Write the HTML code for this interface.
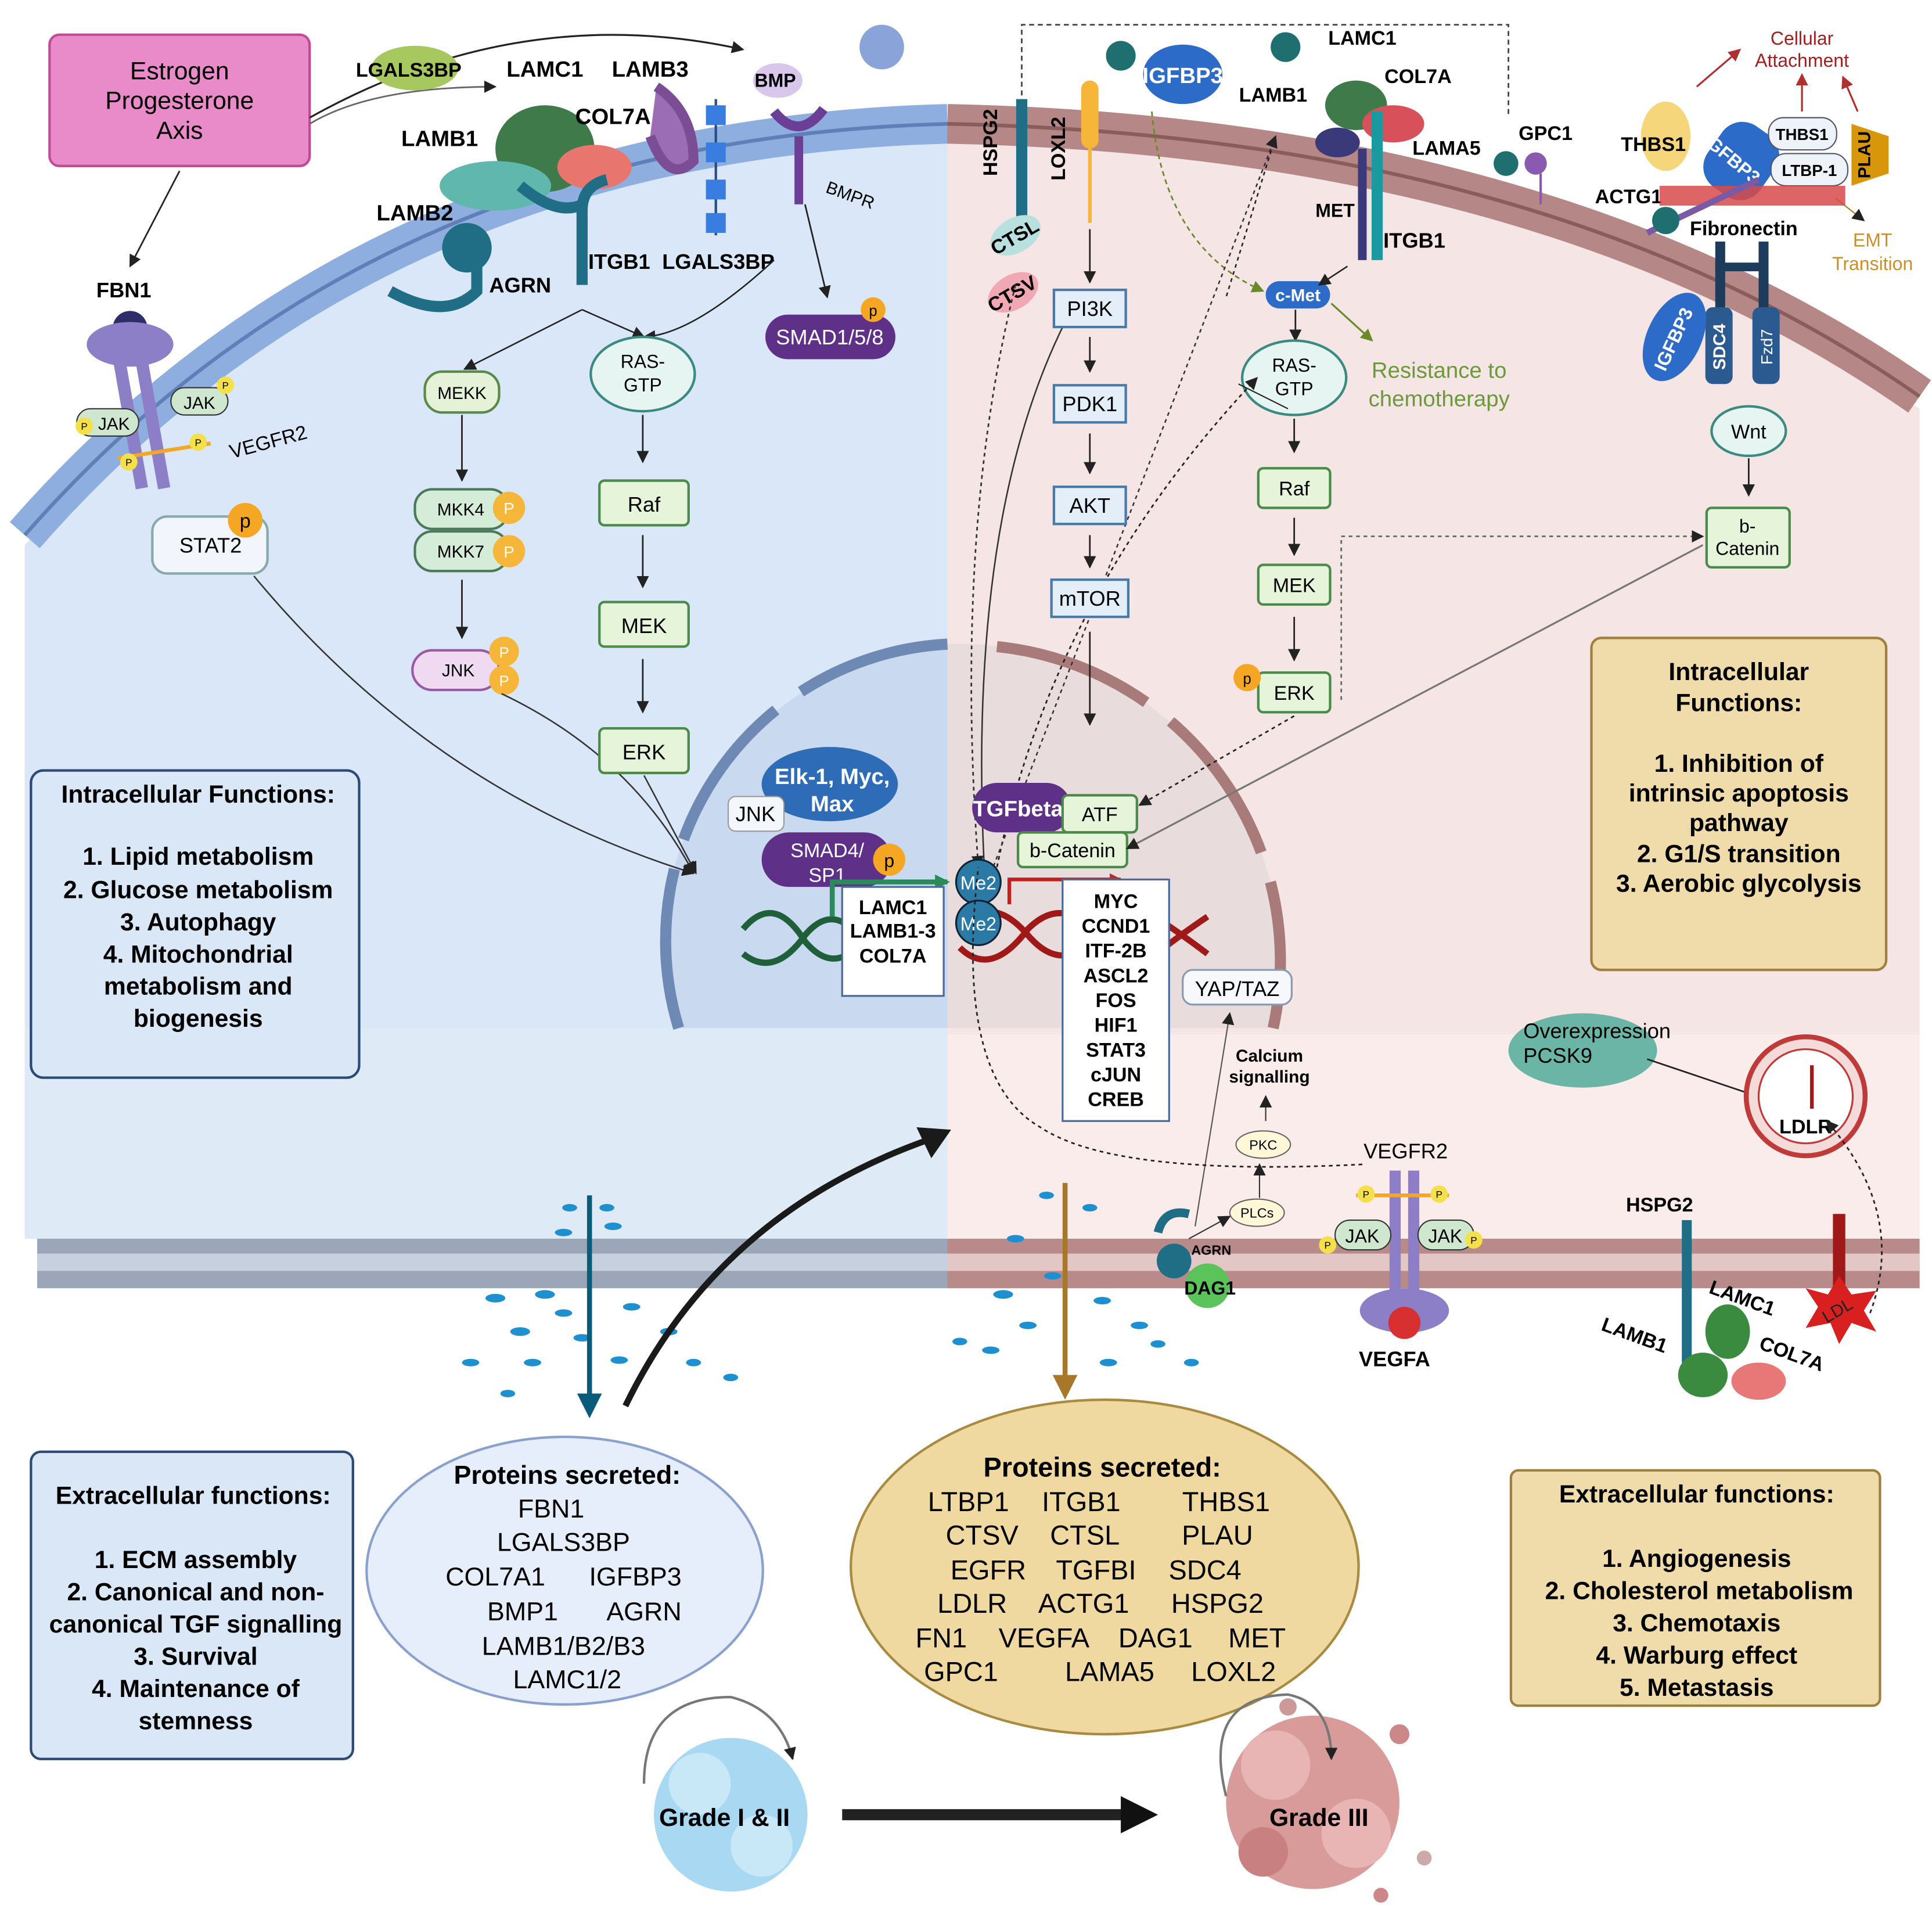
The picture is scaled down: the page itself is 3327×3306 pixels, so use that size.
<!DOCTYPE html>
<html><head><meta charset="utf-8"><style>
html,body{margin:0;padding:0;background:#fff}
svg{display:block}
text{font-family:"Liberation Sans",sans-serif}
</style></head><body>
<svg width="3327" height="3306" viewBox="0 0 1560 1550" preserveAspectRatio="none" xmlns="http://www.w3.org/2000/svg">
<defs>
<marker id="ar" markerUnits="userSpaceOnUse" markerWidth="10" markerHeight="10" refX="9" refY="5" orient="auto"><path d="M0,0L10,5L0,10z" fill="#222"/></marker>
<marker id="ag" markerUnits="userSpaceOnUse" markerWidth="10" markerHeight="10" refX="9" refY="5" orient="auto"><path d="M0,0L10,5L0,10z" fill="#6a8a2a"/></marker>
<marker id="arr" markerUnits="userSpaceOnUse" markerWidth="10" markerHeight="10" refX="9" refY="5" orient="auto"><path d="M0,0L10,5L0,10z" fill="#b03030"/></marker>
<marker id="agr" markerUnits="userSpaceOnUse" markerWidth="12" markerHeight="12" refX="10" refY="6" orient="auto"><path d="M0,0L12,6L0,12z" fill="#2b8a5a"/></marker>
</defs>
<rect width="1560" height="1550" fill="#fff"/>
<path d="M20,440 Q300,125 765,110 L765,1000 L20,1000 Z" fill="#d9e7f8"/>
<rect x="20" y="830" width="745" height="170" fill="#dfeaf7"/>
<path d="M765,110 Q1250,120 1550,330 L1550,1000 L765,1000 Z" fill="#f5e5e5"/>
<rect x="765" y="835" width="785" height="165" fill="#fbecec"/>
<path d="M765,520 A245,245 0 0 0 545,830 L765,830Z" fill="#c9d9ef"/>
<path d="M765,520 A260,260 0 0 1 1030,830 L765,830Z" fill="#e8dcdc"/>
<path d="M548,830 A240,240 0 0 1 765,520" fill="none" stroke="#6f89b5" stroke-width="9" stroke-dasharray="130,25"/>
<path d="M805,522 A255,255 0 0 1 1028,830" fill="none" stroke="#a97a7a" stroke-width="9" stroke-dasharray="130,25"/>
<path d="M20,432 Q300,112 765,100" fill="none" stroke="#8eaedf" stroke-width="32"/>
<path d="M20,432 Q300,112 765,100" fill="none" stroke="#5f7fb8" stroke-width="3"/>
<path d="M765,100 Q1250,110 1550,320" fill="none" stroke="#b58787" stroke-width="32"/>
<path d="M765,100 Q1250,110 1550,320" fill="none" stroke="#8a5d5d" stroke-width="3"/>
<rect x="30" y="1000" width="735" height="40" fill="#9ba7b9"/>
<rect x="30" y="1012" width="735" height="14" fill="#c7d0de"/>
<rect x="765" y="1000" width="785" height="40" fill="#b88a8a"/>
<rect x="765" y="1012" width="785" height="14" fill="#e3c6c6"/>

<rect x="40" y="28" width="210" height="106" rx="8" fill="#e98bc8" stroke="#c44a98" stroke-width="2"/>
<text x="145" y="64" font-size="20" text-anchor="middle">Estrogen</text>
<text x="145" y="88" font-size="20" text-anchor="middle">Progesterone</text>
<text x="145" y="112" font-size="20" text-anchor="middle">Axis</text>
<path d="M250,100 Q300,70 400,70" stroke="#666" fill="none" stroke-width="1.3" marker-end="url(#ar)"/>
<path d="M250,95 Q420,0 600,40" stroke="#222" fill="none" stroke-width="1.5" marker-end="url(#ar)"/>
<path d="M145,138 L105,215" stroke="#222" stroke-width="1.3" marker-end="url(#ar)"/>

<ellipse cx="335" cy="55" rx="35" ry="18" fill="#a7c85e"/>
<text x="330" y="62" font-size="16" font-weight="bold" text-anchor="middle">LGALS3BP</text>
<ellipse cx="440" cy="120" rx="40" ry="35" fill="#3f7a4a"/>
<ellipse cx="480" cy="135" rx="30" ry="18" fill="#e8766f"/>
<ellipse cx="400" cy="150" rx="45" ry="20" fill="#5fb7ae"/>
<text x="440" y="62" font-size="18" font-weight="bold" text-anchor="middle">LAMC1</text>
<text x="355" y="118" font-size="18" font-weight="bold" text-anchor="middle">LAMB1</text>
<text x="495" y="100" font-size="18" font-weight="bold" text-anchor="middle">COL7A</text>
<text x="525" y="62" font-size="18" font-weight="bold" text-anchor="middle">LAMB3</text>
<path d="M530,70 Q560,90 560,130 Q540,150 525,110" fill="#9a6db5" stroke="#7a4d95" stroke-width="8"/>
<text x="335" y="178" font-size="18" font-weight="bold" text-anchor="middle">LAMB2</text>
<path d="M315,235 Q360,260 385,235 L385,200" fill="none" stroke="#1f6e86" stroke-width="9"/>
<circle cx="377" cy="200" r="20" fill="#1f6e86"/>
<text x="420" y="236" font-size="17" font-weight="bold" text-anchor="middle">AGRN</text>
<path d="M470,230 L470,170 Q470,150 490,145" fill="none" stroke="#1f6e86" stroke-width="9"/>
<path d="M420,150 Q450,175 470,165" fill="none" stroke="#1f6e86" stroke-width="9"/>
<text x="500" y="217" font-size="17" font-weight="bold" text-anchor="middle">ITGB1</text>
<text x="580" y="217" font-size="17" font-weight="bold" text-anchor="middle">LGALS3BP</text>
<line x1="578" y1="80" x2="578" y2="190" stroke="#2a4d8a" stroke-width="2"/>
<g fill="#3a7de0"><rect x="570" y="85" width="16" height="16"/><rect x="570" y="115" width="16" height="16"/><rect x="570" y="145" width="16" height="16"/><rect x="570" y="172" width="16" height="16"/></g>
<ellipse cx="628" cy="65" rx="20" ry="14" fill="#d8c7ea"/>
<text x="626" y="70" font-size="15" font-weight="bold" text-anchor="middle">BMP</text>
<path d="M625,90 Q645,115 665,88" fill="none" stroke="#6a3f95" stroke-width="8"/>
<line x1="645" y1="110" x2="645" y2="165" stroke="#6a3f95" stroke-width="7"/>
<text x="685" y="162" font-size="14" transform="rotate(20 685 162)" text-anchor="middle">BMPR</text>
<ellipse cx="712" cy="38" rx="18" ry="18" fill="#8aa3d8"/>
<path d="M650,165 L668,240" stroke="#222" stroke-width="1.3" marker-end="url(#ar)"/>
<rect x="618" y="254" width="105" height="36" rx="18" fill="#5e3088"/>
<text x="670" y="278" font-size="17" fill="#fff" text-anchor="middle">SMAD1/5/8</text>
<circle cx="705" cy="250" r="10" fill="#f5a623"/><text x="705" y="255" font-size="12" text-anchor="middle">p</text>

<text x="100" y="240" font-size="17" font-weight="bold" text-anchor="middle">FBN1</text>
<circle cx="105" cy="265" r="14" fill="#2d2d6a"/>
<ellipse cx="105" cy="278" rx="35" ry="18" fill="#8d7fc7"/>
<rect x="100" y="290" width="10" height="105" fill="#8d7fc7" transform="rotate(-10 105 340)"/>
<rect x="118" y="290" width="10" height="105" fill="#8d7fc7" transform="rotate(-10 123 340)"/>
<rect x="62" y="330" width="50" height="22" rx="11" fill="#cfe7cf" stroke="#333"/><text x="92" y="347" font-size="14" text-anchor="middle">JAK</text>
<rect x="138" y="313" width="46" height="22" rx="11" fill="#cfe7cf" stroke="#333"/><text x="161" y="330" font-size="14" text-anchor="middle">JAK</text>
<line x1="95" y1="370" x2="170" y2="358" stroke="#f5a623" stroke-width="3"/>
<g font-size="8" text-anchor="middle"><circle cx="68" cy="344" r="7" fill="#f5e04a"/><text x="68" y="347">P</text><circle cx="104" cy="373" r="7" fill="#f5e04a"/><text x="104" y="376">P</text><circle cx="160" cy="357" r="7" fill="#f5e04a"/><text x="160" y="360">P</text><circle cx="182" cy="311" r="7" fill="#f5e04a"/><text x="182" y="314">P</text></g>
<text x="218" y="362" font-size="16" transform="rotate(-15 218 362)" text-anchor="middle">VEGFR2</text>
<rect x="123" y="417" width="93" height="46" rx="12" fill="#f2f6fc" stroke="#8aa" stroke-width="2"/>
<text x="170" y="446" font-size="17" text-anchor="middle">STAT2</text>
<circle cx="198" cy="420" r="14" fill="#f5a623"/><text x="198" y="426" font-size="16" text-anchor="middle">p</text>
<path d="M205,465 Q350,640 560,705" stroke="#333" fill="none" stroke-width="1.2" marker-end="url(#ar)"/>

<path d="M470,250 L375,298" stroke="#222" stroke-width="1.2" marker-end="url(#ar)"/>
<path d="M470,250 L520,272" stroke="#222" stroke-width="1.2" marker-end="url(#ar)"/>
<path d="M625,210 Q560,270 520,272" stroke="#222" fill="none" stroke-width="1.2" marker-end="url(#ar)"/>
<rect x="343" y="300" width="60" height="33" rx="14" fill="#e6f2d8" stroke="#5a8a4a" stroke-width="2"/><text x="373" y="322" font-size="14" text-anchor="middle">MEKK</text>
<line x1="373" y1="335" x2="373" y2="388" stroke="#222" stroke-width="1.3" marker-end="url(#ar)"/>
<rect x="335" y="395" width="75" height="32" rx="14" fill="#d5ecd8" stroke="#4a7a5a" stroke-width="2"/><text x="372" y="416" font-size="14" text-anchor="middle">MKK4</text>
<rect x="335" y="429" width="75" height="32" rx="14" fill="#d5ecd8" stroke="#4a7a5a" stroke-width="2"/><text x="372" y="450" font-size="14" text-anchor="middle">MKK7</text>
<circle cx="411" cy="410" r="13" fill="#f5b63a"/><text x="411" y="415" font-size="13" fill="#fff" text-anchor="middle">P</text>
<circle cx="411" cy="445" r="13" fill="#f5b63a"/><text x="411" y="450" font-size="13" fill="#fff" text-anchor="middle">P</text>
<line x1="373" y1="468" x2="373" y2="515" stroke="#222" stroke-width="1.3" marker-end="url(#ar)"/>
<rect x="333" y="525" width="70" height="32" rx="16" fill="#efdaf2" stroke="#9a5aa5" stroke-width="2"/><text x="370" y="546" font-size="14" text-anchor="middle">JNK</text>
<circle cx="407" cy="526" r="12" fill="#f5b63a"/><text x="407" y="531" font-size="12" fill="#fff" text-anchor="middle">P</text>
<circle cx="407" cy="549" r="12" fill="#f5b63a"/><text x="407" y="554" font-size="12" fill="#fff" text-anchor="middle">P</text>
<path d="M405,560 Q510,610 560,705" stroke="#333" fill="none" stroke-width="1.2" marker-end="url(#ar)"/>
<ellipse cx="519" cy="302" rx="42" ry="30" fill="#e6f4f2" stroke="#3a8a80" stroke-width="2"/>
<text x="519" y="297" font-size="15" text-anchor="middle">RAS-</text><text x="519" y="316" font-size="15" text-anchor="middle">GTP</text>
<line x1="519" y1="335" x2="519" y2="373" stroke="#222" stroke-width="1.3" marker-end="url(#ar)"/>
<rect x="484" y="388" width="72" height="36" rx="4" fill="#e6f4da" stroke="#4a8a4a" stroke-width="2"/><text x="520" y="413" font-size="17" text-anchor="middle">Raf</text>
<line x1="519" y1="432" x2="519" y2="474" stroke="#222" stroke-width="1.3" marker-end="url(#ar)"/>
<rect x="484" y="486" width="72" height="36" rx="4" fill="#e6f4da" stroke="#4a8a4a" stroke-width="2"/><text x="520" y="511" font-size="17" text-anchor="middle">MEK</text>
<line x1="519" y1="532" x2="519" y2="575" stroke="#222" stroke-width="1.3" marker-end="url(#ar)"/>
<rect x="484" y="588" width="72" height="36" rx="4" fill="#e6f4da" stroke="#4a8a4a" stroke-width="2"/><text x="520" y="613" font-size="17" text-anchor="middle">ERK</text>
<path d="M520,626 L562,705" stroke="#333" stroke-width="1.2" marker-end="url(#ar)"/>

<rect x="25" y="622" width="265" height="248" rx="10" fill="#d9e7f6" stroke="#2b4a78" stroke-width="2"/>
<g font-size="20" text-anchor="middle" font-weight="bold">
<text x="160" y="648">Intracellular Functions:</text>
<text x="160" y="698">1. Lipid metabolism</text>
<text x="160" y="725">2. Glucose metabolism</text>
<text x="160" y="751">3. Autophagy</text>
<text x="160" y="777">4. Mitochondrial</text>
<text x="160" y="803">metabolism and</text>
<text x="160" y="829">biogenesis</text></g>

<ellipse cx="670" cy="633" rx="55" ry="30" fill="#2f6cb8"/>
<text x="672" y="633" font-size="18" fill="#fff" font-weight="bold" text-anchor="middle">Elk-1, Myc,</text>
<text x="672" y="655" font-size="18" fill="#fff" font-weight="bold" text-anchor="middle">Max</text>
<rect x="588" y="643" width="45" height="28" rx="6" fill="#f3f6fa" stroke="#999"/><text x="610" y="663" font-size="17" text-anchor="middle">JNK</text>
<rect x="615" y="672" width="105" height="44" rx="22" fill="#5e3088"/>
<text x="668" y="692" font-size="16" fill="#fff" text-anchor="middle">SMAD4/</text><text x="668" y="712" font-size="16" fill="#fff" text-anchor="middle">SP1</text>
<circle cx="718" cy="694" r="13" fill="#f5a623"/><text x="718" y="700" font-size="15" text-anchor="middle">p</text>
<path d="M600,750 Q625,720 650,760 Q675,790 700,755 M600,770 Q625,790 650,755 Q675,725 700,765" fill="none" stroke="#1f5f3a" stroke-width="5"/>
<path d="M672,740 L672,712 L765,712" fill="none" stroke="#2b8a5a" stroke-width="4" marker-end="url(#agr)"/>
<rect x="680" y="716" width="82" height="88" fill="#fff" stroke="#4a6a9a" stroke-width="1.5"/>
<g font-size="16" font-weight="bold" text-anchor="middle"><text x="721" y="738">LAMC1</text><text x="721" y="757">LAMB1-3</text><text x="721" y="777">COL7A</text></g>

<path d="M825,98 L825,20 L1218,20 L1218,95" fill="none" stroke="#444" stroke-width="1.3" stroke-dasharray="4,3"/>
<text x="805" y="115" font-size="16" font-weight="bold" transform="rotate(-90 805 115)" text-anchor="middle">HSPG2</text>
<line x1="825" y1="80" x2="825" y2="180" stroke="#1f6e86" stroke-width="9"/>
<ellipse cx="820" cy="190" rx="22" ry="14" fill="#b8e0de" transform="rotate(-30 820 190)"/>
<text x="822" y="196" font-size="16" font-weight="bold" transform="rotate(-30 822 196)" text-anchor="middle">CTSL</text>
<ellipse cx="818" cy="236" rx="22" ry="14" fill="#f2a8b4" transform="rotate(-30 818 236)"/>
<text x="820" y="242" font-size="16" font-weight="bold" transform="rotate(-30 820 242)" text-anchor="middle">CTSV</text>
<text x="860" y="120" font-size="16" font-weight="bold" transform="rotate(-90 860 120)" text-anchor="middle">LOXL2</text>
<rect x="873" y="65" width="14" height="55" rx="7" fill="#f5b63a"/>
<line x1="880" y1="120" x2="880" y2="180" stroke="#f5b63a" stroke-width="3"/>
<path d="M880,185 L880,228" stroke="#222" stroke-width="1.3" marker-end="url(#ar)"/>
<circle cx="905" cy="45" r="12" fill="#1f6e70"/>
<ellipse cx="955" cy="60" rx="32" ry="24" fill="#2d6bc8"/><text x="955" y="67" font-size="18" font-weight="bold" fill="#fff" text-anchor="middle">IGFBP3</text>
<circle cx="1038" cy="38" r="12" fill="#1f6e70"/>
<text x="1100" y="36" font-size="16" font-weight="bold" text-anchor="middle">LAMC1</text>
<text x="1145" y="67" font-size="16" font-weight="bold" text-anchor="middle">COL7A</text>
<text x="1028" y="82" font-size="16" font-weight="bold" text-anchor="middle">LAMB1</text>
<text x="1168" y="125" font-size="16" font-weight="bold" text-anchor="middle">LAMA5</text>
<ellipse cx="1095" cy="85" rx="25" ry="20" fill="#3f7a4a"/>
<ellipse cx="1125" cy="100" rx="25" ry="15" fill="#d8505a"/>
<ellipse cx="1080" cy="115" rx="18" ry="12" fill="#3a3a7a"/>
<line x1="1100" y1="120" x2="1100" y2="210" stroke="#3a3a7a" stroke-width="7"/>
<line x1="1112" y1="90" x2="1112" y2="210" stroke="#1a9aa0" stroke-width="9"/>
<text x="1078" y="175" font-size="15" font-weight="bold" text-anchor="middle">MET</text>
<text x="1142" y="200" font-size="17" font-weight="bold" text-anchor="middle">ITGB1</text>
<circle cx="1240" cy="132" r="9" fill="#8a5ab0"/><line x1="1244" y1="140" x2="1244" y2="165" stroke="#8a5ab0" stroke-width="2"/>
<circle cx="1216" cy="132" r="10" fill="#1f6e70"/>
<text x="1248" y="113" font-size="16" font-weight="bold" text-anchor="middle">GPC1</text>
<path d="M1030,110 L990,240" stroke="#222" stroke-width="1.2" stroke-dasharray="3,3" fill="none"/>
<path d="M930,90 Q940,200 1020,235" stroke="#6a8a2a" stroke-width="1.3" stroke-dasharray="4,3" fill="none" marker-end="url(#ag)"/>
<rect x="1022" y="227" width="52" height="22" rx="11" fill="#2d6bc8"/><text x="1048" y="243" font-size="14" font-weight="bold" fill="#fff" text-anchor="middle">c-Met</text>
<path d="M1075,245 L1108,275" stroke="#6a8a2a" stroke-width="1.5" marker-end="url(#ag)"/>
<text x="1162" y="305" font-size="18" fill="#6a9a3a" text-anchor="middle">Resistance to</text>
<text x="1162" y="328" font-size="18" fill="#6a9a3a" text-anchor="middle">chemotherapy</text>
<path d="M1088,215 L1065,230" stroke="#222" stroke-width="1.2" marker-end="url(#ar)"/>
<line x1="1046" y1="250" x2="1046" y2="275" stroke="#222" stroke-width="1.3" marker-end="url(#ar)"/>
<ellipse cx="1045" cy="305" rx="42" ry="30" fill="#e6f4f2" stroke="#3a8a80" stroke-width="2"/>
<text x="1045" y="300" font-size="15" text-anchor="middle">RAS-</text><text x="1045" y="319" font-size="15" text-anchor="middle">GTP</text>
<line x1="1045" y1="338" x2="1045" y2="365" stroke="#222" stroke-width="1.3" marker-end="url(#ar)"/>
<rect x="1016" y="378" width="58" height="32" rx="4" fill="#e6f4da" stroke="#4a8a4a" stroke-width="2"/><text x="1045" y="400" font-size="16" text-anchor="middle">Raf</text>
<line x1="1045" y1="418" x2="1045" y2="448" stroke="#222" stroke-width="1.3" marker-end="url(#ar)"/>
<rect x="1016" y="456" width="58" height="32" rx="4" fill="#e6f4da" stroke="#4a8a4a" stroke-width="2"/><text x="1045" y="478" font-size="16" text-anchor="middle">MEK</text>
<line x1="1045" y1="498" x2="1045" y2="533" stroke="#222" stroke-width="1.3" marker-end="url(#ar)"/>
<rect x="1016" y="543" width="58" height="32" rx="4" fill="#e6f4da" stroke="#4a8a4a" stroke-width="2"/><text x="1045" y="565" font-size="16" text-anchor="middle">ERK</text>
<circle cx="1007" cy="547" r="11" fill="#f5a623"/><text x="1007" y="552" font-size="12" text-anchor="middle">p</text>
<path d="M1045,578 L920,650" stroke="#222" stroke-width="1.3" stroke-dasharray="3,3" fill="none" marker-end="url(#ar)"/>
<path d="M1083,565 L1083,433 L1375,433" stroke="#666" stroke-width="1.3" stroke-dasharray="3,3" fill="none" marker-end="url(#ar)"/>
<path d="M1040,330 L1000,310" stroke="#222" stroke-width="1" fill="none"/>
<path d="M805,700 Q850,480 1015,305" stroke="#222" stroke-width="1.3" stroke-dasharray="3,3" fill="none" marker-end="url(#ar)"/>
<path d="M795,705 Q780,420 860,260" stroke="#333" stroke-width="1.2" fill="none"/>
<path d="M800,705 L1030,110" stroke="#333" stroke-width="1.2" fill="none" stroke-dasharray="3,3" marker-end="url(#ar)"/>
<path d="M820,230 Q770,430 790,700" stroke="#333" stroke-width="1.3" fill="none" stroke-dasharray="3,3" marker-end="url(#ar)"/>

<g font-size="17" text-anchor="middle">
<rect x="851" y="234" width="58" height="30" fill="#e4eef9" stroke="#4a7aa8" stroke-width="2"/><text x="880" y="255">PI3K</text>
<line x1="880" y1="272" x2="880" y2="300" stroke="#222" stroke-width="1.3" marker-end="url(#ar)"/>
<rect x="851" y="311" width="58" height="30" fill="#e4eef9" stroke="#4a7aa8" stroke-width="2"/><text x="880" y="332">PDK1</text>
<line x1="880" y1="350" x2="880" y2="382" stroke="#222" stroke-width="1.3" marker-end="url(#ar)"/>
<rect x="851" y="393" width="58" height="30" fill="#e4eef9" stroke="#4a7aa8" stroke-width="2"/><text x="880" y="414">AKT</text>
<line x1="880" y1="432" x2="880" y2="458" stroke="#222" stroke-width="1.3" marker-end="url(#ar)"/>
<rect x="849" y="468" width="62" height="30" fill="#e4eef9" stroke="#4a7aa8" stroke-width="2"/><text x="880" y="489">mTOR</text>
</g>
<line x1="880" y1="510" x2="880" y2="585" stroke="#222" stroke-width="1.3" marker-end="url(#ar)"/>

<rect x="785" y="632" width="80" height="40" rx="20" fill="#5e3088"/><text x="822" y="659" font-size="18" font-weight="bold" fill="#fff" text-anchor="middle">TGFbeta</text>
<rect x="858" y="642" width="60" height="30" rx="4" fill="#e6f4da" stroke="#4a8a4a" stroke-width="2"/><text x="888" y="663" font-size="16" text-anchor="middle">ATF</text>
<rect x="822" y="672" width="88" height="28" rx="4" fill="#e6f4da" stroke="#4a8a4a" stroke-width="2"/><text x="866" y="692" font-size="16" text-anchor="middle">b-Catenin</text>
<path d="M1375,440 L910,685" stroke="#777" stroke-width="1.5" marker-end="url(#ar)"/>
<path d="M775,750 Q800,720 830,755 Q860,790 890,750 M775,765 Q800,790 830,750 Q860,720 890,760 M940,745 Q955,755 975,770 M940,765 Q960,750 975,740" fill="none" stroke="#a01818" stroke-width="5"/>
<path d="M815,730 L815,710 L905,710" fill="none" stroke="#c02020" stroke-width="3" marker-end="url(#arr)"/>
<circle cx="790" cy="712" r="18" fill="#2a7aa5" stroke="#123" stroke-width="1.5"/><text x="790" y="718" font-size="15" fill="#fff" text-anchor="middle">Me2</text>
<circle cx="790" cy="745" r="18" fill="#2a7aa5" stroke="#123" stroke-width="1.5"/><text x="790" y="751" font-size="15" fill="#fff" text-anchor="middle">Me2</text>
<rect x="858" y="710" width="86" height="195" fill="#fff" stroke="#4a6a9a" stroke-width="1.5"/>
<g font-size="16" font-weight="bold" text-anchor="middle"><text x="901" y="733">MYC</text><text x="901" y="753">CCND1</text><text x="901" y="773">ITF-2B</text><text x="901" y="793">ASCL2</text><text x="901" y="813">FOS</text><text x="901" y="833">HIF1</text><text x="901" y="853">STAT3</text><text x="901" y="873">cJUN</text><text x="901" y="893">CREB</text></g>
<rect x="955" y="783" width="88" height="28" rx="8" fill="#f6f8fb" stroke="#8a9ab5" stroke-width="1.5"/><text x="999" y="804" font-size="17" text-anchor="middle">YAP/TAZ</text>
<path d="M965,990 L993,818" stroke="#555" stroke-width="1" marker-end="url(#ar)"/>
<text x="1025" y="857" font-size="14" font-weight="bold" text-anchor="middle">Calcium</text>
<text x="1025" y="874" font-size="14" font-weight="bold" text-anchor="middle">signalling</text>
<line x1="1022" y1="905" x2="1022" y2="885" stroke="#333" marker-end="url(#ar)"/>
<ellipse cx="1020" cy="924" rx="22" ry="11" fill="#fff7d8" stroke="#666"/><text x="1020" y="928" font-size="11" text-anchor="middle">PKC</text>
<line x1="1017" y1="967" x2="1017" y2="940" stroke="#333" marker-end="url(#ar)"/>
<ellipse cx="1015" cy="979" rx="22" ry="11" fill="#fff7d8" stroke="#666"/><text x="1015" y="983" font-size="11" text-anchor="middle">PLCs</text>
<path d="M960,1000 L993,982" stroke="#333" marker-end="url(#ar)"/>
<path d="M1100,940 Q900,950 840,910 Q770,870 790,700" stroke="#222" stroke-width="1.3" fill="none" stroke-dasharray="3,3"/>

<ellipse cx="1345" cy="110" rx="20" ry="28" fill="#f5d67a"/>
<text x="1335" y="122" font-size="16" font-weight="bold" text-anchor="middle">THBS1</text>
<rect x="1380" y="100" width="52" height="60" rx="20" fill="#2d6bc8" transform="rotate(35 1406 130)"/>
<text x="1395" y="132" font-size="15" font-weight="bold" fill="#fff" transform="rotate(40 1395 132)" text-anchor="middle">IGFBP3</text>
<rect x="1428" y="95" width="55" height="26" rx="12" fill="#eef3fa" stroke="#556"/><text x="1455" y="113" font-size="13" font-weight="bold" text-anchor="middle">THBS1</text>
<rect x="1430" y="124" width="62" height="26" rx="12" fill="#eef3fa" stroke="#556"/><text x="1461" y="142" font-size="13" font-weight="bold" text-anchor="middle">LTBP-1</text>
<path d="M1495,100 L1525,110 L1525,140 L1495,150Z" fill="#d8960a"/>
<text x="1510" y="125" font-size="14" font-weight="bold" transform="rotate(-90 1510 125)" text-anchor="middle">PLAU</text>
<text x="1455" y="36" font-size="15" fill="#a02020" text-anchor="middle">Cellular</text>
<text x="1455" y="54" font-size="15" fill="#a02020" text-anchor="middle">Attachment</text>
<path d="M1370,70 L1405,40" stroke="#b03030" stroke-width="1.5" marker-end="url(#arr)"/>
<path d="M1455,90 L1455,60" stroke="#b03030" stroke-width="1.5" marker-end="url(#arr)"/>
<path d="M1500,90 L1488,62" stroke="#b03030" stroke-width="1.5" marker-end="url(#arr)"/>
<text x="1512" y="199" font-size="15" fill="#c8902a" text-anchor="middle">EMT</text>
<text x="1512" y="218" font-size="15" fill="#c8902a" text-anchor="middle">Transition</text>
<path d="M1482,160 L1505,178" stroke="#a08020" marker-end="url(#ar)"/>
<text x="1315" y="164" font-size="16" font-weight="bold" text-anchor="middle">ACTG1</text>
<rect x="1340" y="150" width="150" height="16" fill="#d84a4a" opacity="0.85"/>
<line x1="1330" y1="188" x2="1420" y2="145" stroke="#7a5aa5" stroke-width="5"/>
<circle cx="1345" cy="178" r="11" fill="#1f6e70"/>
<text x="1408" y="190" font-size="16" font-weight="bold" text-anchor="middle">Fibronectin</text>
<rect x="1385" y="195" width="8" height="100" fill="#1d3b5a"/><rect x="1420" y="195" width="8" height="100" fill="#1d3b5a"/>
<rect x="1385" y="212" width="43" height="7" fill="#1d3b5a"/>
<rect x="1377" y="248" width="22" height="62" rx="6" fill="#2a5a90"/><text x="1393" y="280" font-size="14" font-weight="bold" fill="#fff" transform="rotate(-90 1393 280)" text-anchor="middle">SDC4</text>
<rect x="1415" y="248" width="22" height="62" rx="6" fill="#2a5a90"/><text x="1431" y="280" font-size="13" fill="#fff" transform="rotate(-90 1431 280)" text-anchor="middle">Fzd7</text>
<ellipse cx="1352" cy="272" rx="22" ry="38" fill="#2d6bc8" transform="rotate(25 1352 272)"/>
<text x="1356" y="276" font-size="15" font-weight="bold" fill="#fff" transform="rotate(-65 1356 276)" text-anchor="middle">IGFBP3</text>
<ellipse cx="1412" cy="348" rx="30" ry="20" fill="#e6f4f2" stroke="#3a8a80" stroke-width="2"/><text x="1412" y="354" font-size="16" text-anchor="middle">Wnt</text>
<line x1="1412" y1="370" x2="1412" y2="400" stroke="#222" stroke-width="1.3" marker-end="url(#ar)"/>
<rect x="1378" y="410" width="67" height="48" rx="4" fill="#e6f4da" stroke="#4a8a4a" stroke-width="2"/><text x="1411" y="430" font-size="15" text-anchor="middle">b-</text><text x="1411" y="448" font-size="15" text-anchor="middle">Catenin</text>

<rect x="1285" y="515" width="238" height="268" rx="8" fill="#f0dcaa" stroke="#a08040" stroke-width="2"/>
<g font-size="20" font-weight="bold" text-anchor="middle"><text x="1404" y="549">Intracellular</text><text x="1404" y="574">Functions:</text>
<text x="1404" y="623">1. Inhibition of</text><text x="1404" y="647">intrinsic apoptosis</text><text x="1404" y="671">pathway</text><text x="1404" y="696">2. G1/S transition</text><text x="1404" y="720">3. Aerobic glycolysis</text></g>

<ellipse cx="1278" cy="848" rx="60" ry="30" fill="#6ab5a5"/>
<text x="1230" y="838" font-size="17">Overexpression</text><text x="1230" y="858" font-size="17">PCSK9</text>
<line x1="1330" y1="855" x2="1410" y2="882" stroke="#222" stroke-width="1.3"/>
<circle cx="1458" cy="885" r="48" fill="#f5dada" stroke="#c03a3a" stroke-width="4"/>
<circle cx="1458" cy="885" r="38" fill="#fff" stroke="#c03a3a" stroke-width="1.5"/>
<text x="1458" y="915" font-size="16" font-weight="bold" text-anchor="middle">LDLR</text>
<line x1="1463" y1="860" x2="1463" y2="895" stroke="#a01818" stroke-width="3"/>
<path d="M1510,1060 Q1540,980 1475,905" stroke="#222" fill="none" stroke-width="1.3" stroke-dasharray="3,3" marker-end="url(#ar)"/>

<text x="1135" y="935" font-size="17" text-anchor="middle">VEGFR2</text>
<rect x="1122" y="945" width="9" height="110" fill="#8d7fc7"/><rect x="1137" y="945" width="9" height="110" fill="#8d7fc7"/>
<line x1="1095" y1="965" x2="1170" y2="965" stroke="#f5a623" stroke-width="3"/>
<ellipse cx="1134" cy="1058" rx="36" ry="18" fill="#8d7fc7"/>
<circle cx="1134" cy="1068" r="13" fill="#d83030"/>
<text x="1126" y="1103" font-size="17" font-weight="bold" text-anchor="middle">VEGFA</text>
<rect x="1078" y="985" width="45" height="24" rx="12" fill="#cfe7cf" stroke="#333"/><text x="1100" y="1003" font-size="15" text-anchor="middle">JAK</text>
<rect x="1145" y="985" width="45" height="24" rx="12" fill="#cfe7cf" stroke="#333"/><text x="1167" y="1003" font-size="15" text-anchor="middle">JAK</text>
<g font-size="8" text-anchor="middle"><circle cx="1103" cy="964" r="7" fill="#f5e04a"/><text x="1103" y="967">P</text><circle cx="1162" cy="964" r="7" fill="#f5e04a"/><text x="1162" y="967">P</text><circle cx="1072" cy="1005" r="7" fill="#f5e04a"/><text x="1072" y="1008">P</text><circle cx="1190" cy="1001" r="7" fill="#f5e04a"/><text x="1190" y="1004">P</text></g>
<path d="M935,995 Q940,975 960,980" fill="none" stroke="#1f6e86" stroke-width="7"/>
<circle cx="948" cy="1018" r="14" fill="#1f6e86"/>
<circle cx="975" cy="1038" r="18" fill="#5ac35a"/>
<text x="978" y="1013" font-size="11" font-weight="bold" text-anchor="middle">AGRN</text>
<text x="977" y="1045" font-size="15" font-weight="bold" text-anchor="middle">DAG1</text>
<text x="1340" y="978" font-size="16" font-weight="bold" text-anchor="middle">HSPG2</text>
<line x1="1362" y1="985" x2="1362" y2="1100" stroke="#1f6e86" stroke-width="8"/>
<ellipse cx="1395" cy="1075" rx="18" ry="22" fill="#3a8a40"/>
<ellipse cx="1375" cy="1110" rx="20" ry="18" fill="#3a8a40"/>
<ellipse cx="1420" cy="1115" rx="22" ry="15" fill="#e87878"/>
<text x="1405" y="1053" font-size="16" font-weight="bold" transform="rotate(20 1405 1053)" text-anchor="middle">LAMC1</text>
<text x="1318" y="1083" font-size="16" font-weight="bold" transform="rotate(20 1318 1083)" text-anchor="middle">LAMB1</text>
<text x="1445" y="1098" font-size="16" font-weight="bold" transform="rotate(20 1445 1098)" text-anchor="middle">COL7A</text>
<rect x="1480" y="980" width="10" height="60" fill="#a01818"/>
<path d="M1485,1030 L1495,1045 L1515,1042 L1505,1058 L1515,1075 L1495,1068 L1485,1085 L1478,1068 L1458,1072 L1468,1055 L1458,1040 L1476,1045Z" fill="#d82020"/>
<text x="1486" y="1062" font-size="14" fill="#222" transform="rotate(-30 1486 1062)" text-anchor="middle">LDL</text>

<g fill="#1e90d0">
<ellipse cx="460" cy="975" rx="6" ry="3"/><ellipse cx="490" cy="975" rx="6" ry="3"/><ellipse cx="455" cy="995" rx="7" ry="3"/><ellipse cx="495" cy="990" rx="7" ry="3"/>
<ellipse cx="440" cy="1045" rx="8" ry="3.5"/><ellipse cx="400" cy="1048" rx="8" ry="3.5"/><ellipse cx="455" cy="1060" rx="7" ry="3"/><ellipse cx="510" cy="1055" rx="7" ry="3"/>
<ellipse cx="420" cy="1075" rx="8" ry="3.5"/><ellipse cx="470" cy="1080" rx="7" ry="3"/><ellipse cx="540" cy="1075" rx="7" ry="3"/><ellipse cx="380" cy="1100" rx="7" ry="3"/>
<ellipse cx="430" cy="1100" rx="7" ry="3"/><ellipse cx="500" cy="1098" rx="7" ry="3"/><ellipse cx="560" cy="1100" rx="6" ry="3"/><ellipse cx="590" cy="1112" rx="6" ry="3"/><ellipse cx="410" cy="1125" rx="6" ry="3"/>
<ellipse cx="845" cy="965" rx="6" ry="3"/><ellipse cx="880" cy="975" rx="6" ry="3"/><ellipse cx="820" cy="1000" rx="7" ry="3"/><ellipse cx="850" cy="1030" rx="7" ry="3"/>
<ellipse cx="810" cy="1045" rx="8" ry="3.5"/><ellipse cx="890" cy="1050" rx="7" ry="3"/><ellipse cx="920" cy="1070" rx="7" ry="3"/><ellipse cx="830" cy="1070" rx="7" ry="3"/>
<ellipse cx="800" cy="1090" rx="7" ry="3"/><ellipse cx="775" cy="1083" rx="6" ry="3"/><ellipse cx="895" cy="1100" rx="7" ry="3"/><ellipse cx="935" cy="1085" rx="6" ry="3"/><ellipse cx="962" cy="1100" rx="6" ry="3"/>
</g>
<line x1="476" y1="965" x2="476" y2="1130" stroke="#0a5a7a" stroke-width="4"/>
<path d="M466,1125 L486,1125 L476,1145Z" fill="#0a5a7a"/>
<line x1="860" y1="955" x2="860" y2="1115" stroke="#a8782a" stroke-width="4"/>
<path d="M850,1110 L870,1110 L860,1130Z" fill="#a8782a"/>
<path d="M505,1135 Q580,980 750,920" stroke="#1a1a1a" stroke-width="5" fill="none"/>
<path d="M740,910 L768,912 L752,935Z" fill="#1a1a1a"/>

<rect x="25" y="1172" width="260" height="248" rx="8" fill="#d9e7f6" stroke="#2b4a78" stroke-width="2"/>
<g font-size="20" font-weight="bold" text-anchor="middle"><text x="156" y="1214">Extracellular functions:</text>
<text x="158" y="1266">1. ECM assembly</text><text x="158" y="1292">2. Canonical and non-</text><text x="158" y="1318">canonical TGF signalling</text><text x="158" y="1344">3. Survival</text><text x="158" y="1370">4. Maintenance of</text><text x="158" y="1396">stemness</text></g>
<ellipse cx="456" cy="1268" rx="160" ry="108" fill="#e5eefa" stroke="#8aa0cf" stroke-width="2"/>
<g font-size="21" text-anchor="middle"><text x="458" y="1198" font-weight="bold">Proteins secreted:</text>
<text x="445" y="1225">FBN1</text><text x="455" y="1252">LGALS3BP</text>
<text x="400" y="1280">COL7A1</text><text x="513" y="1280">IGFBP3</text>
<text x="422" y="1308">BMP1</text><text x="520" y="1308">AGRN</text>
<text x="455" y="1336">LAMB1/B2/B3</text><text x="458" y="1363">LAMC1/2</text></g>
<ellipse cx="892" cy="1265" rx="205" ry="135" fill="#efd9a0" stroke="#a88a40" stroke-width="2"/>
<g font-size="22" text-anchor="middle"><text x="890" y="1192" font-weight="bold">Proteins secreted:</text>
<text x="782" y="1220">LTBP1</text><text x="873" y="1220">ITGB1</text><text x="990" y="1220">THBS1</text>
<text x="793" y="1247">CTSV</text><text x="876" y="1247">CTSL</text><text x="983" y="1247">PLAU</text>
<text x="798" y="1275">EGFR</text><text x="885" y="1275">TGFBI</text><text x="973" y="1275">SDC4</text>
<text x="785" y="1302">LDLR</text><text x="875" y="1302">ACTG1</text><text x="983" y="1302">HSPG2</text>
<text x="760" y="1330">FN1</text><text x="843" y="1330">VEGFA</text><text x="933" y="1330">DAG1</text><text x="1015" y="1330">MET</text>
<text x="776" y="1357">GPC1</text><text x="896" y="1357">LAMA5</text><text x="996" y="1357">LOXL2</text></g>
<rect x="1220" y="1187" width="298" height="190" rx="6" fill="#f0dcaa" stroke="#a08040" stroke-width="2"/>
<g font-size="20" font-weight="bold" text-anchor="middle"><text x="1370" y="1213">Extracellular functions:</text>
<text x="1370" y="1265">1. Angiogenesis</text><text x="1372" y="1291">2. Cholesterol metabolism</text><text x="1370" y="1317">3. Chemotaxis</text><text x="1370" y="1343">4. Warburg effect</text><text x="1370" y="1369">5. Metastasis</text></g>

<circle cx="590" cy="1465" r="62" fill="#a8d8f2"/>
<circle cx="565" cy="1440" r="25" fill="#c8e8f8"/><circle cx="615" cy="1490" r="25" fill="#c8e8f8"/>
<path d="M520,1440 Q520,1370 590,1370 Q630,1380 640,1420" stroke="#777" stroke-width="2" fill="none" marker-end="url(#ar)"/>
<text x="585" y="1474" font-size="20" font-weight="bold" text-anchor="middle">Grade I &amp; II</text>
<circle cx="1060" cy="1455" r="70" fill="#d99a9a"/>
<circle cx="1030" cy="1425" r="28" fill="#e8b4b4"/><circle cx="1095" cy="1480" r="28" fill="#e8b4b4"/><circle cx="1020" cy="1495" r="20" fill="#c88080"/>
<circle cx="1130" cy="1400" r="8" fill="#c88"/><circle cx="1150" cy="1500" r="6" fill="#caa"/><circle cx="1115" cy="1530" r="6" fill="#c88"/><circle cx="1040" cy="1378" r="7" fill="#c99"/>
<path d="M990,1450 Q970,1370 1040,1368 Q1075,1375 1075,1420" stroke="#777" stroke-width="2" fill="none" marker-end="url(#ar)"/>
<text x="1065" y="1474" font-size="20" font-weight="bold" text-anchor="middle">Grade III</text>
<line x1="680" y1="1465" x2="910" y2="1465" stroke="#222" stroke-width="9"/>
<path d="M905,1450 L935,1465 L905,1480Z" fill="#111"/>
</svg>
</body></html>
